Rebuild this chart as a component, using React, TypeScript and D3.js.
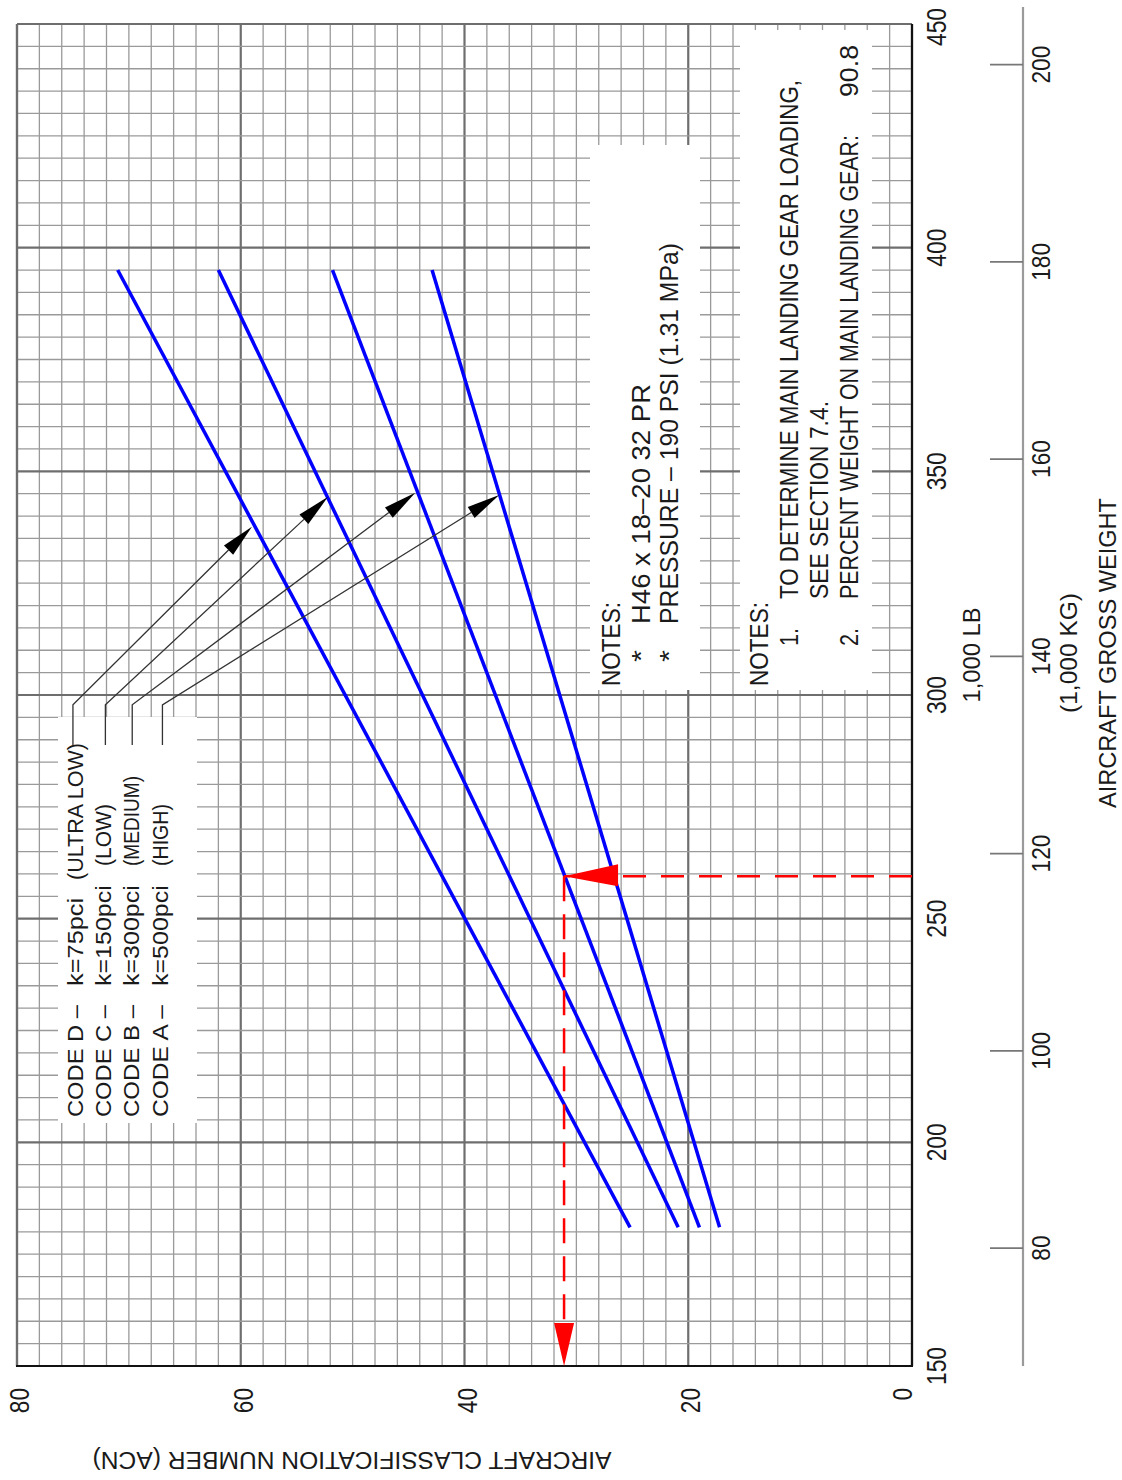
import * as d3 from 'd3';

// ACN chart, drawn rotated: ACN runs right-to-left, gross weight runs bottom-to-top.

const acnTicks = [0, 20, 40, 60, 80];
const lbTicks = [150, 200, 250, 300, 350, 400, 450];
const kgTicks = [80, 100, 120, 140, 160, 180, 200];

// gross weight (1,000 lb) at the two ends of every curve
const curveWeights = [181, 395];
const codeD = [25.2, 71.0];
const codeC = [20.9, 62.0];
const codeB = [19.0, 51.8];
const codeA = [17.2, 42.9];

const codes = ['D', 'C', 'B', 'A'];
const subgrade = ['k=75pci', 'k=150pci', 'k=300pci', 'k=500pci'];
const subgradeName = ['(ULTRA LOW)', '(LOW)', '(MEDIUM)', '(HIGH)'];

// leader arrows from the legend to each curve (ACN, 1,000 lb)
const leaderStemAcn = [75.0, 72.1, 69.7, 67.0];
const leaderTipAcn = [59.0, 52.2, 44.4, 36.9];
const leaderTipWeight = [337.6, 344.3, 345.2, 344.7];
const leaderStemTop = 297.8;
const leaderStemBottom = 288.8;

// worked example (red)
const exampleWeight = 259.5;
const exampleAcn = 31.1;

const LB_PER_KG = 2.20462;
const FONT = "'Liberation Sans', Arial, sans-serif";
const INK = '#1a1a1a';

function VText({ x, y, anchor = 'middle', size, len, children }: any) {
	return (
		<text
			transform={`translate(${x},${y}) rotate(-90)`}
			textAnchor={anchor}
			dominantBaseline="central"
			fontSize={size}
			textLength={len}
			lengthAdjust="spacingAndGlyphs"
			fill={INK}
		>
			{children}
		</text>
	);
}

export default function App() {
	const W = 1122;
	const H = 1480;
	const x = d3.scaleLinear().domain([0, 80]).range([912, 17]);
	const y = d3.scaleLinear().domain([150, 450]).range([1366, 24]);

	const series = [codeD, codeC, codeB, codeA].map((acn, i) => ({
		code: codes[i],
		pts: curveWeights.map((w, j) => [acn[j], w] as [number, number]),
	}));

	const line = d3
		.line<[number, number]>()
		.x((d) => x(d[0]))
		.y((d) => y(d[1]));

	const vGrid = d3.range(0, 81, 2);
	const hGrid = d3.range(150, 451, 5);

	const arrowHead = (x0: number, y0: number, x1: number, y1: number, len: number, half: number) => {
		const dx = x1 - x0;
		const dy = y1 - y0;
		const l = Math.hypot(dx, dy);
		const ux = dx / l;
		const uy = dy / l;
		const bx = x1 - ux * len;
		const by = y1 - uy * len;
		return {
			base: [bx, by],
			pts: `${x1},${y1} ${bx - uy * half},${by + ux * half} ${bx + uy * half},${by - ux * half}`,
		};
	};

	const exX = x(exampleAcn);
	const exY = y(exampleWeight);

	return (
		<svg
			width={W}
			height={H}
			style={{ position: 'absolute', left: 0, top: 0, background: '#fff' }}
			fontFamily={FONT}
		>
			<rect width={W} height={H} fill="#fff" />

			{/* grid */}
			<g>
				{vGrid.map((v) => (
					<line
						key={`v${v}`}
						x1={x(v)}
						x2={x(v)}
						y1={y(450)}
						y2={y(150)}
						stroke={v % 20 === 0 ? '#6e6e6e' : '#9a9a9a'}
						strokeWidth={v % 20 === 0 ? 2.2 : 1.3}
					/>
				))}
				{hGrid.map((w) => (
					<line
						key={`h${w}`}
						x1={x(80)}
						x2={x(0)}
						y1={y(w)}
						y2={y(w)}
						stroke={w % 50 === 0 ? '#6e6e6e' : '#9a9a9a'}
						strokeWidth={w % 50 === 0 ? 2.2 : 1.3}
					/>
				))}
			</g>

			{/* white panels for legend and notes */}
			<rect x={58} y={717} width={139} height={406} fill="#fff" />
			<rect x={590} y={145} width={110} height={545} fill="#fff" />
			<rect x={740} y={30} width={132} height={660} fill="#fff" />

			{/* frame */}
			<line x1={x(80)} x2={x(0)} y1={y(450)} y2={y(450)} stroke="#6e6e6e" strokeWidth={2.2} />
			<line x1={x(80)} x2={x(80)} y1={y(450)} y2={y(150)} stroke="#6e6e6e" strokeWidth={2.2} />
			<line x1={x(80) - 1} x2={x(0) + 1} y1={y(150)} y2={y(150)} stroke="#111" strokeWidth={2.2} />
			<line x1={x(0)} x2={x(0)} y1={y(450)} y2={y(150)} stroke="#111" strokeWidth={2.2} />

			{/* ACN curves */}
			{series.map((s) => (
				<path key={s.code} d={line(s.pts) || ''} fill="none" stroke="#0000ff" strokeWidth={3.5} />
			))}

			{/* legend leaders */}
			{codes.map((c, i) => {
				const sx = x(leaderStemAcn[i]);
				const sy0 = y(leaderStemBottom);
				const sy1 = y(leaderStemTop);
				const tx = x(leaderTipAcn[i]);
				const ty = y(leaderTipWeight[i]);
				const head = arrowHead(sx, sy1, tx, ty, 33, 6.5);
				return (
					<g key={`lead${c}`}>
						<polyline
							points={`${sx},${sy0} ${sx},${sy1} ${head.base[0]},${head.base[1]}`}
							fill="none"
							stroke="#333"
							strokeWidth={1.3}
						/>
						<polygon points={head.pts} fill="#000" />
					</g>
				);
			})}

			{/* worked example */}
			<line x1={x(0)} x2={exX} y1={exY} y2={exY} stroke="#ff0000" strokeWidth={2.5} strokeDasharray="23,15" />
			<line x1={exX} x2={exX} y1={exY} y2={y(150)} stroke="#ff0000" strokeWidth={2.5} strokeDasharray="25,13" />
			<polygon points={`${exX},${exY} ${exX + 54},${exY - 12} ${exX + 54},${exY + 10}`} fill="#ff0000" />
			<polygon points={`${exX},${y(150)} ${exX - 10},${y(150) - 43} ${exX + 10},${y(150) - 43}`} fill="#ff0000" />

			{/* ACN tick labels */}
			{acnTicks.map((v) => (
				<VText key={`a${v}`} x={x(v) + (v === 0 ? -9 : 3)} y={1388} anchor="end" size={27} len={String(v).length * 12.6}>
					{v}
				</VText>
			))}
			<text
				transform="translate(352,1460) rotate(180)"
				textAnchor="middle"
				dominantBaseline="central"
				fontSize={23}
				textLength={519}
				lengthAdjust="spacingAndGlyphs"
				fill={INK}
			>
				AIRCRAFT CLASSIFICATION NUMBER (ACN)
			</text>

			{/* gross weight (1,000 lb) labels */}
			{lbTicks.map((w) => (
				<VText key={`w${w}`} x={937} y={Math.max(y(w), 27)} size={27} len={38}>
					{w}
				</VText>
			))}
			<VText x={971} y={655} size={24} len={95}>
				1,000 LB
			</VText>

			{/* kg axis */}
			<line x1={1023} x2={1023} y1={7} y2={y(150)} stroke="#9a9a9a" strokeWidth={2.2} />
			{kgTicks.map((k) => (
				<g key={`k${k}`}>
					<line x1={990} x2={1023} y1={y(k * LB_PER_KG)} y2={y(k * LB_PER_KG)} stroke="#777" strokeWidth={1.8} />
					<VText x={1041} y={y(k * LB_PER_KG)} size={25} len={String(k).length * 12.6}>
						{k}
					</VText>
				</g>
			))}
			<VText x={1068} y={653} size={24} len={120}>
				(1,000 KG)
			</VText>
			<VText x={1107} y={653} size={24} len={310}>
				AIRCRAFT GROSS WEIGHT
			</VText>

			{/* legend */}
			{codes.map((c, i) => {
				const cx = [75, 103, 131, 160][i];
				const nameLen = [137, 62, 90, 62][i];
				return (
					<g key={`leg${c}`}>
						<VText x={cx} y={1117} anchor="start" size={22} len={112}>
							{`CODE ${c} –`}
						</VText>
						<VText x={cx} y={986} anchor="start" size={22} len={subgrade[i].length * 12.6}>
							{subgrade[i]}
						</VText>
						<VText x={cx} y={i === 0 ? 880 : 866} anchor="start" size={22} len={nameLen}>
							{subgradeName[i]}
						</VText>
					</g>
				);
			})}

			{/* notes, box 1 */}
			<VText x={611} y={686} anchor="start" size={25} len={84}>
				NOTES:
			</VText>
			<VText x={641} y={662} anchor="start" size={25} len={12}>
				*
			</VText>
			<VText x={641} y={624} anchor="start" size={25} len={240}>
				H46 x 18–20 32 PR
			</VText>
			<VText x={669} y={662} anchor="start" size={25} len={12}>
				*
			</VText>
			<VText x={669} y={624} anchor="start" size={25} len={381}>
				PRESSURE – 190 PSI (1.31 MPa)
			</VText>

			{/* notes, box 2 */}
			<VText x={759} y={686} anchor="start" size={25} len={84}>
				NOTES:
			</VText>
			<VText x={789} y={646} anchor="start" size={25} len={18}>
				1.
			</VText>
			<VText x={789} y={599} anchor="start" size={25} len={519}>
				TO DETERMINE MAIN LANDING GEAR LOADING,
			</VText>
			<VText x={819} y={599} anchor="start" size={25} len={198}>
				SEE SECTION 7.4.
			</VText>
			<VText x={849} y={646} anchor="start" size={25} len={18}>
				2.
			</VText>
			<VText x={849} y={599} anchor="start" size={25} len={464}>
				PERCENT WEIGHT ON MAIN LANDING GEAR:
			</VText>
			<VText x={849} y={97} anchor="start" size={25} len={52}>
				90.8
			</VText>
		</svg>
	);
}
